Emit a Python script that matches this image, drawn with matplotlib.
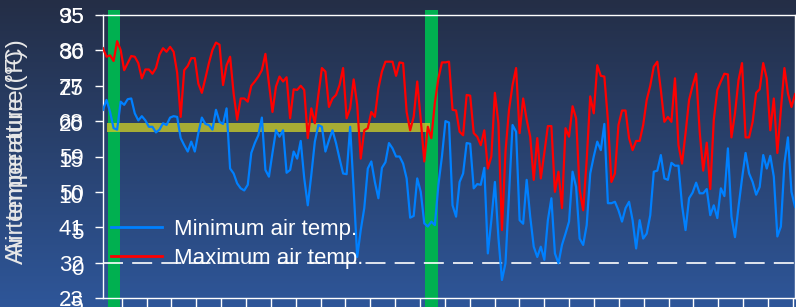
import numpy as np
import matplotlib
matplotlib.use('Agg')
import matplotlib.pyplot as plt
from matplotlib.colors import LinearSegmentedColormap

plt.rcParams['font.family'] = ['Liberation Sans', 'DejaVu Sans']

# daily maximum / minimum air temperature (deg C)
t_max = [30.3, 29.1, 29.3, 28.5, 31.3, 30.05, 27.2, 28.2, 29.2, 29.1,
         28.2, 26.05, 27.3, 27.3, 26.7, 27.5, 29.4, 30.3, 29.8, 30.5,
         29.8, 26.85, 20.6, 27.2, 27.8, 28.9, 28.9, 25.3, 24.0, 26.05,
         28.2, 30.05, 31.1, 30.8, 25.1, 27.9, 29.1, 23.9, 20.2, 23.2,
         23.2, 22.75, 25.0, 25.6, 26.3, 27.2, 29.5, 25.3, 21.3, 24.9,
         26.3, 25.6, 26.2, 20.4, 24.5, 24.4, 25.0, 24.4, 17.6, 21.8,
         19.7, 23.7, 27.5, 27.0, 22.0, 23.2, 23.7, 25.1, 27.5, 20.4,
         21.8, 25.9, 22.3, 14.7, 18.7, 19.0, 21.3, 20.6, 24.6, 27.0,
         28.4, 28.4, 28.4, 26.4, 28.3, 28.2, 21.3, 18.7, 20.6, 25.6,
         20.2, 14.3, 19.2, 17.6, 22.6, 26.05, 28.3, 28.3, 28.4, 21.6,
         21.5, 18.5, 18.0, 23.7, 23.6, 18.3, 17.8, 16.6, 18.7, 13.3,
         15.0, 24.0, 19.7, 4.6, 15.7, 21.6, 25.1, 27.5, 18.3, 23.2,
         20.2, 17.8, 11.7, 17.6, 11.9, 15.5, 19.3, 19.3, 10.0, 12.85,
         7.7, 19.0, 17.8, 22.1, 20.4, 10.3, 7.4, 14.5, 23.5, 21.1,
         27.9, 26.4, 26.3, 20.2, 11.4, 12.6, 19.45, 21.5, 21.5, 17.6,
         15.9, 17.2, 17.2, 19.45, 23.0, 25.0, 27.7, 28.4, 24.4, 19.9,
         20.6, 19.9, 26.05, 16.6, 14.0, 18.3, 23.0, 25.0, 26.7, 18.5,
         13.0, 16.95, 10.4, 20.2, 24.4, 25.6, 26.7, 26.6, 17.7, 21.1,
         25.8, 28.2, 17.7, 17.7, 19.9, 24.0, 24.5, 28.2, 26.05, 18.7,
         23.2, 15.5, 21.6, 27.5, 23.9, 22.0, 23.8]

t_min = [21.6, 23.0, 21.3, 19.0, 18.8, 22.75, 22.3, 23.1, 23.2, 21.1,
         20.1, 20.7, 20.1, 19.2, 19.2, 18.4, 18.8, 19.7, 19.45, 20.5,
         20.7, 20.6, 17.6, 16.6, 15.7, 17.1, 15.7, 18.3, 20.5, 19.6,
         19.45, 18.8, 21.6, 19.9, 19.6, 21.8, 13.3, 12.6, 11.2, 10.5,
         10.2, 11.0, 15.5, 16.9, 18.0, 20.5, 13.1, 12.15, 15.5, 18.7,
         17.8, 18.7, 12.7, 13.1, 15.7, 14.7, 17.2, 11.9, 8.1, 12.4,
         17.1, 19.45, 19.2, 15.7, 17.3, 18.7, 16.9, 14.7, 12.6, 12.5,
         19.2, 10.3, 0.8, 4.6, 7.7, 13.3, 14.3, 11.4, 9.1, 13.4,
         14.2, 16.9, 16.15, 15.0, 15.0, 14.0, 11.9, 6.35, 6.6, 11.9,
         10.0, 5.55, 5.1, 5.8, 5.3, 11.0, 15.0, 20.0, 19.8, 8.1,
         6.5, 11.4, 12.6, 16.9, 16.8, 10.5, 11.1, 11.0, 13.4, 1.3,
         6.0, 11.4, 3.5, -2.45, -0.1, 9.8, 19.45, 18.5, 6.0, 5.5,
         11.7, 6.5, 2.25, 0.8, 2.25, 0.4, 6.0, 9.1, 1.3, -0.1,
         2.5, 4.1, 5.8, 12.85, 10.7, 3.4, 2.5, 5.3, 12.6, 15.0,
         17.1, 15.9, 19.6, 8.4, 8.4, 8.6, 7.4, 5.8, 7.7, 8.6,
         6.0, 2.0, 6.0, 3.4, 4.1, 6.7, 12.85, 13.0, 15.2, 11.9,
         11.7, 14.1, 13.7, 13.7, 8.1, 4.6, 9.1, 9.9, 11.3, 9.8,
         9.8, 10.4, 6.7, 8.1, 6.3, 10.5, 9.4, 16.15, 6.5, 3.6,
         7.9, 11.9, 15.5, 12.6, 11.4, 9.6, 10.7, 15.2, 13.3, 15.1,
         12.15, 3.7, 5.1, 14.0, 17.7, 10.0, 7.9]

days = np.arange(len(t_max))

c_ticks = [-5, 0, 5, 10, 15, 20, 25, 30, 35]
c_labels = ['-5', '0', '5', '10', '15', '20', '25', '30', '35']
f_labels = ['23', '32', '41', '50', '59', '68', '77', '86', '95']

# highlighted periods (day index) and the reference band
green_periods = [(1.4, 4.8), (91.2, 94.9)]
band_days = (1.1, 92.6)
band_temps = (18.5, 19.7)

W, H = 796, 307
fig = plt.figure(figsize=(W / 100, H / 100), dpi=100)

# gradient background
bg = fig.add_axes([0, 0, 1, 1], zorder=-10)
grad = np.linspace(0, 1, 256).reshape(-1, 1)
cmap = LinearSegmentedColormap.from_list('bg', ['#242e46', '#2e5699'])
bg.imshow(grad, aspect='auto', cmap=cmap, extent=[0, 1, 0, 1], origin='upper')
bg.axis('off')

left, right, top, bottom = 103, 795, 15, 298
ax = fig.add_axes([left / W, (H - bottom) / H, (right - left) / W, (bottom - top) / H])
ax.patch.set_alpha(0)

for a, b in green_periods:
    ax.axvspan(a, b, ymin=-0.05, ymax=1.018, color='#00b050', clip_on=False, zorder=1, lw=0)
ax.fill_between(band_days, band_temps[0], band_temps[1], color='#c8c828', alpha=0.8,
                lw=0, zorder=2)
ax.axhline(0, color='white', lw=1.2, linestyle=(0, (12, 5.5)), zorder=3)

ax.plot(days, t_min, color='#0080ff', lw=1.6, label='Minimum air temp.', zorder=4)
ax.plot(days, t_max, color='#ff0000', lw=1.6, label='Maximum air temp.', zorder=4)

ax.set_xlim(0, len(days) - 1)
ax.set_ylim(-5, 35)
ax.set_xticks(np.arange(5.3, len(days), 7.04))
ax.set_xticklabels([])
ax.tick_params(axis='x', colors='white', length=8, width=1, direction='out')
ax.set_yticks(c_ticks)
ax.set_yticklabels(f_labels)
ax.tick_params(axis='y', colors='white', length=6, width=1, pad=8, labelsize=16)
for s in ax.spines.values():
    s.set_color('white')
    s.set_linewidth(1)

# celsius labels, on a slightly taller overlay axis
off = 5
ax_c = fig.add_axes([left / W, (H - bottom - off) / H, (right - left) / W, (bottom - top + off) / H])
ax_c.patch.set_alpha(0)
ax_c.set_ylim(-5, 35)
ax_c.set_yticks(c_ticks)
ax_c.set_yticklabels(c_labels)
ax_c.set_xticks([])
ax_c.tick_params(axis='y', colors='white', length=6, width=0, pad=8, labelsize=16)
for s in ax_c.spines.values():
    s.set_visible(False)

fig.text(6 / W, (H - 148) / H, 'Air temperature (°C)', rotation=90, color='#e8e8e8',
         fontsize=17.5, ha='left', va='center')
fig.text(6 / W, (H - 157) / H, 'Air temperature (°F)', rotation=90, color='#e8e8e8',
         fontsize=17.5, ha='left', va='center')

leg = ax.legend(loc='upper left', bbox_to_anchor=((111 - left) / (right - left), (bottom - 219) / (bottom - top)),
                frameon=False, fontsize=16, handlelength=2.3, handletextpad=0.55,
                labelspacing=0.34, borderpad=0, borderaxespad=0)
for t in leg.get_texts():
    t.set_color('white')
for l in leg.get_lines():
    l.set_linewidth(2)

fig.savefig('out.png', dpi=100)
